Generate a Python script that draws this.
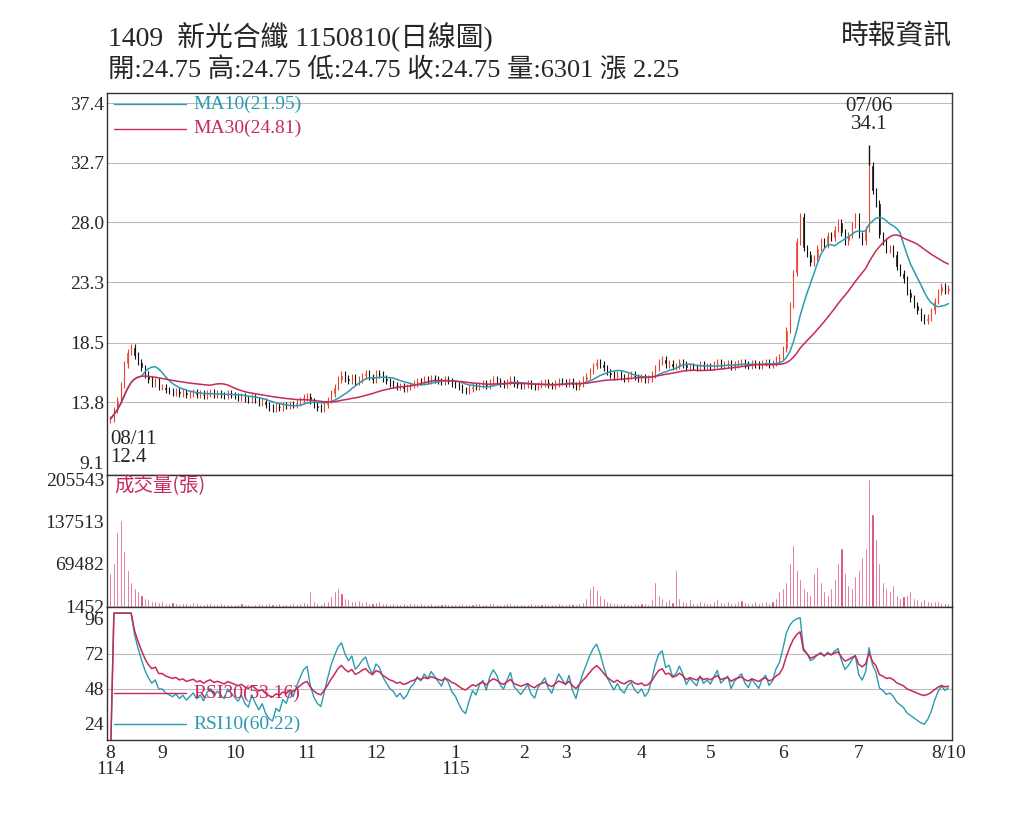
import numpy as np, pandas as pd, matplotlib
matplotlib.use("Agg")
import matplotlib.pyplot as plt, seaborn as sns

sns.set_style("white")
plt.rcParams['font.family'] = ['Liberation Serif', 'Noto Sans CJK TC', 'DejaVu Sans']

close_aug25 = [12.5,13.2,14.0,15.2,16.8,17.8,18.2,17.5,17.0,16.5,16.0,15.6,15.3,15.5,15.0]
close_sep = [15.0,14.8,14.7,14.6,14.7,14.5,14.6,14.4,14.5,14.6,14.4,14.5,14.3,14.5,14.6,14.4,14.5,14.4,14.3,14.5,14.4]
close_oct = [14.3,14.2,14.3,14.1,14.0,14.2,14.0,13.8,13.9,13.6,13.4,13.3,13.5,13.4,13.6,13.5,13.7,13.6,13.8,14.0,14.2]
close_nov = [14.3,13.9,13.6,13.4,13.3,13.6,14.0,14.5,15.0,15.6,16.0,15.7,15.5,15.8,15.4,15.6,15.9,16.1,15.8,15.6]
close_dec = [16.1,16.0,15.7,15.5,15.3,15.2,15.0,15.1,14.9,15.0,15.2,15.3,15.5,15.4,15.6,15.5,15.7,15.6,15.5,15.4,15.6,15.5,15.3]
close_jan = [15.2,15.0,14.8,14.7,14.9,15.1,15.0,15.2,15.3,15.1,15.4,15.6,15.5,15.3,15.2,15.4,15.6,15.3,15.2,15.1]
close_feb = [15.2,15.3,15.1,15.0,15.2,15.3,15.4,15.2,15.1,15.3,15.5,15.4]
close_mar = [15.3,15.5,15.2,15.0,15.3,15.6,15.9,16.3,16.7,17.0,16.8,16.5,16.2,16.0,15.8,16.0,15.8,15.7,15.9,16.0,15.8,15.7]
close_apr = [15.8,15.6,15.7,16.0,16.5,17.0,17.2,16.8,16.9,16.6,16.7,17.0,16.8,16.5,16.7,16.6,16.5,16.8,16.6,16.7]
close_may = [16.6,16.8,17.0,16.7,16.8,16.9,16.6,16.8,16.9,17.0,16.8,16.7,16.9,16.8,16.7,16.9,17.0,16.8,16.9,17.2,17.4]
close_jun = [18.0,19.5,21.5,24.0,26.5,28.5,26.0,25.5,24.8,25.2,26.0,26.5,26.2,27.0,26.8,27.5,28.0,27.2,26.5,27.0,27.8,28.5]
close_jul = [27.0,26.5,27.5,32.5,30.5,29.5,27.0,26.5,25.8,26.0,25.5,24.5,24.0,23.5,22.5,22.0,21.5,21.0,20.5,20.2,20.5,21.0]
close_aug26 = [21.8,22.5,23.0,22.6,22.8]

vol_aug25 = [55000,70000,120000,140000,90000,60000,40000,30000,25000,20000,15000,12000,10000,9000,8000]
vol_sep = [9000,7000,6000,8000,6000,5000,7000,6000,5000,8000,6000,5000,4000,6000,7000,5000,4000,6000,5000,4000,5000]
vol_oct = [5000,4000,6000,5000,4000,3000,5000,6000,4000,5000,7000,5000,4000,6000,5000,4000,5000,6000,5000,6000,8000]
vol_nov = [7000,25000,9000,6000,5000,8000,10000,18000,25000,30000,22000,15000,12000,10000,9000,11000,8000,9000,7000,6000]
vol_dec = [8000,10000,7000,6000,5000,6000,5000,4000,6000,5000,7000,6000,5000,6000,5000,4000,6000,5000,4000,5000,6000,5000,4000]
vol_jan = [5000,4000,6000,5000,4000,5000,6000,7000,5000,4000,6000,7000,5000,4000,5000,6000,7000,5000,4000,5000]
vol_feb = [5000,4000,6000,5000,4000,5000,6000,5000,4000,5000,6000,5000]
vol_mar = [5000,6000,4000,5000,6000,8000,15000,30000,35000,28000,20000,15000,10000,8000,6000,7000,5000,6000,5000,4000,6000,5000]
vol_apr = [6000,7000,5000,12000,40000,20000,15000,10000,12000,8000,60000,15000,10000,8000,12000,6000,7000,9000,8000,6000]
vol_may = [7000,9000,12000,8000,6000,10000,7000,6000,9000,11000,8000,6000,7000,9000,6000,8000,10000,7000,9000,15000,25000]
vol_jun = [30000,40000,70000,100000,60000,45000,30000,25000,20000,55000,65000,40000,25000,20000,30000,45000,70000,95000,55000,35000,30000,50000]
vol_jul = [60000,80000,95000,205543,150000,110000,70000,40000,30000,25000,35000,20000,15000,18000,20000,25000,15000,12000,10000,12000,9000,8000]
vol_aug26 = [9000,10000,7000,6000,6301]

close = np.array(close_aug25+close_sep+close_oct+close_nov+close_dec+close_jan+close_feb+close_mar+close_apr+close_may+close_jun+close_jul+close_aug26)
vol = np.array(vol_aug25+vol_sep+vol_oct+vol_nov+vol_dec+vol_jan+vol_feb+vol_mar+vol_apr+vol_may+vol_jun+vol_jul+vol_aug26)
n = len(close)
x = np.arange(n)
opn = np.r_[12.4, close[:-1]]
df = pd.DataFrame({"x": x, "close": close, "open": opn, "vol": vol})
df["ma10"] = df.close.rolling(10, min_periods=1).mean()
df["ma30"] = df.close.rolling(30, min_periods=1).mean()
d = df.close.diff().fillna(0)
def rsi(p):
    up = d.clip(lower=0).ewm(alpha=1/p, adjust=False).mean()
    dn = (-d.clip(upper=0)).ewm(alpha=1/p, adjust=False).mean()
    return 100*up/(up+dn+1e-9)
df["rsi10"] = rsi(10); df["rsi30"] = rsi(30)

month_starts = np.cumsum([0]+[len(a) for a in [close_aug25,close_sep,close_oct,close_nov,close_dec,close_jan,close_feb,close_mar,close_apr,close_may,close_jun]])
month_labels = ["8\n114","9","10","11","12","1\n115","2","3","4","5","6","7"]

fig = plt.figure(figsize=(10.24, 8.19), dpi=100)
L, W = 0.1045, 0.825
axp = fig.add_axes([L, 0.42, W, 0.4664])
axv = fig.add_axes([L, 0.2589, W, 0.1611], sharex=axp)
axr = fig.add_axes([L, 0.0965, W, 0.1624], sharex=axp)

red, blk, teal, crim, pink = "#e8452c", "#111111", "#2a9bb0", "#c8285a", "#d6336c"
up = df.close >= df.open
cols = np.where(up, red, blk)
hi = np.maximum(df.open, df.close) + 0.25
lo = np.minimum(df.open, df.close) - 0.25
axp.vlines(x, lo, hi, colors=cols, lw=0.8)
axp.bar(x, (df.close-df.open).abs().clip(lower=0.08), bottom=np.minimum(df.open, df.close), width=0.7, color=cols)
pk = int(np.argmax(close))
axp.vlines(pk, close[pk], 34.1, colors=blk, lw=1)
sns.lineplot(data=df, x="x", y="ma10", ax=axp, color=teal, lw=1.1)
sns.lineplot(data=df, x="x", y="ma30", ax=axp, color=crim, lw=1.1)
axp.set_ylim(8.08, 38.2)
pt = [9.1, 13.8, 18.5, 23.3, 28.0, 32.7, 37.4]
axp.set_yticks(pt); axp.set_yticklabels([str(v) for v in pt])
for v in pt[1:]: axp.axhline(v, color="#bbbbbb", lw=0.8, zorder=0)
axp.text(pk, 35.0, "07/06\n34.1", ha="center", va="bottom", fontsize=15, linespacing=0.9)
axp.text(0, 11.6, "08/11\n12.4", ha="left", va="top", fontsize=15, linespacing=0.9)
axp.plot([1, 22], [37.3, 37.3], color=teal, lw=1)
axp.text(24, 37.3, "MA10(21.95)", color=teal, fontsize=14, va="center")
axp.plot([1, 22], [35.4, 35.4], color=crim, lw=1)
axp.text(24, 35.4, "MA30(24.81)", color=crim, fontsize=14, va="center")

axv.bar(x, df.vol, width=0.6, color=pink)
axv.set_ylim(0, 212000)
vt = [1452, 69482, 137513, 205543]
axv.set_yticks(vt); axv.set_yticklabels([str(v) for v in vt])
axv.text(1, 195000, "成交量(張)", color=crim, fontsize=14, va="center", family=['Noto Sans CJK TC'])

sns.lineplot(data=df, x="x", y="rsi10", ax=axr, color=teal, lw=1)
sns.lineplot(data=df, x="x", y="rsi30", ax=axr, color=crim, lw=1.1)
axr.set_ylim(13, 104.2)
rt = [24, 48, 72, 96]
axr.set_yticks(rt)
for v in rt[1:3]: axr.axhline(v, color="#bbbbbb", lw=0.8, zorder=0)
axr.plot([1, 22], [45, 45], color=crim, lw=1)
axr.text(24, 45, "RSI30(53.16)", color=crim, fontsize=14, va="center")
axr.plot([1, 22], [24, 24], color=teal, lw=1)
axr.text(24, 24, "RSI10(60.22)", color=teal, fontsize=14, va="center")

for a in (axp, axv, axr):
    a.set_xlabel(""); a.set_ylabel("")
    a.tick_params(axis="y", labelsize=14, length=0, pad=2)
    for s in a.spines.values(): s.set_color("#333333"); s.set_linewidth(1)
    a.set_xlim(-1, n)
for a in (axp, axv):
    a.tick_params(axis="x", labelbottom=False, length=0)
axr.set_xticks(list(month_starts) + [n-1])
axr.set_xticklabels(month_labels + ["8/10"], fontsize=14, linespacing=0.9, va="top")
axr.tick_params(axis="x", length=4, direction="in")

fig.text(0.105, 0.955, "1409  新光合纖 1150810(日線圖)", fontsize=20, va="center")
fig.text(0.105, 0.915, "開:24.75 高:24.75 低:24.75 收:24.75 量:6301 漲 2.25", fontsize=19, va="center")
fig.text(0.93, 0.955, "時報資訊", fontsize=20, va="center", ha="right", family=['Noto Sans CJK TC'])
fig.savefig("out.png", dpi=100)
